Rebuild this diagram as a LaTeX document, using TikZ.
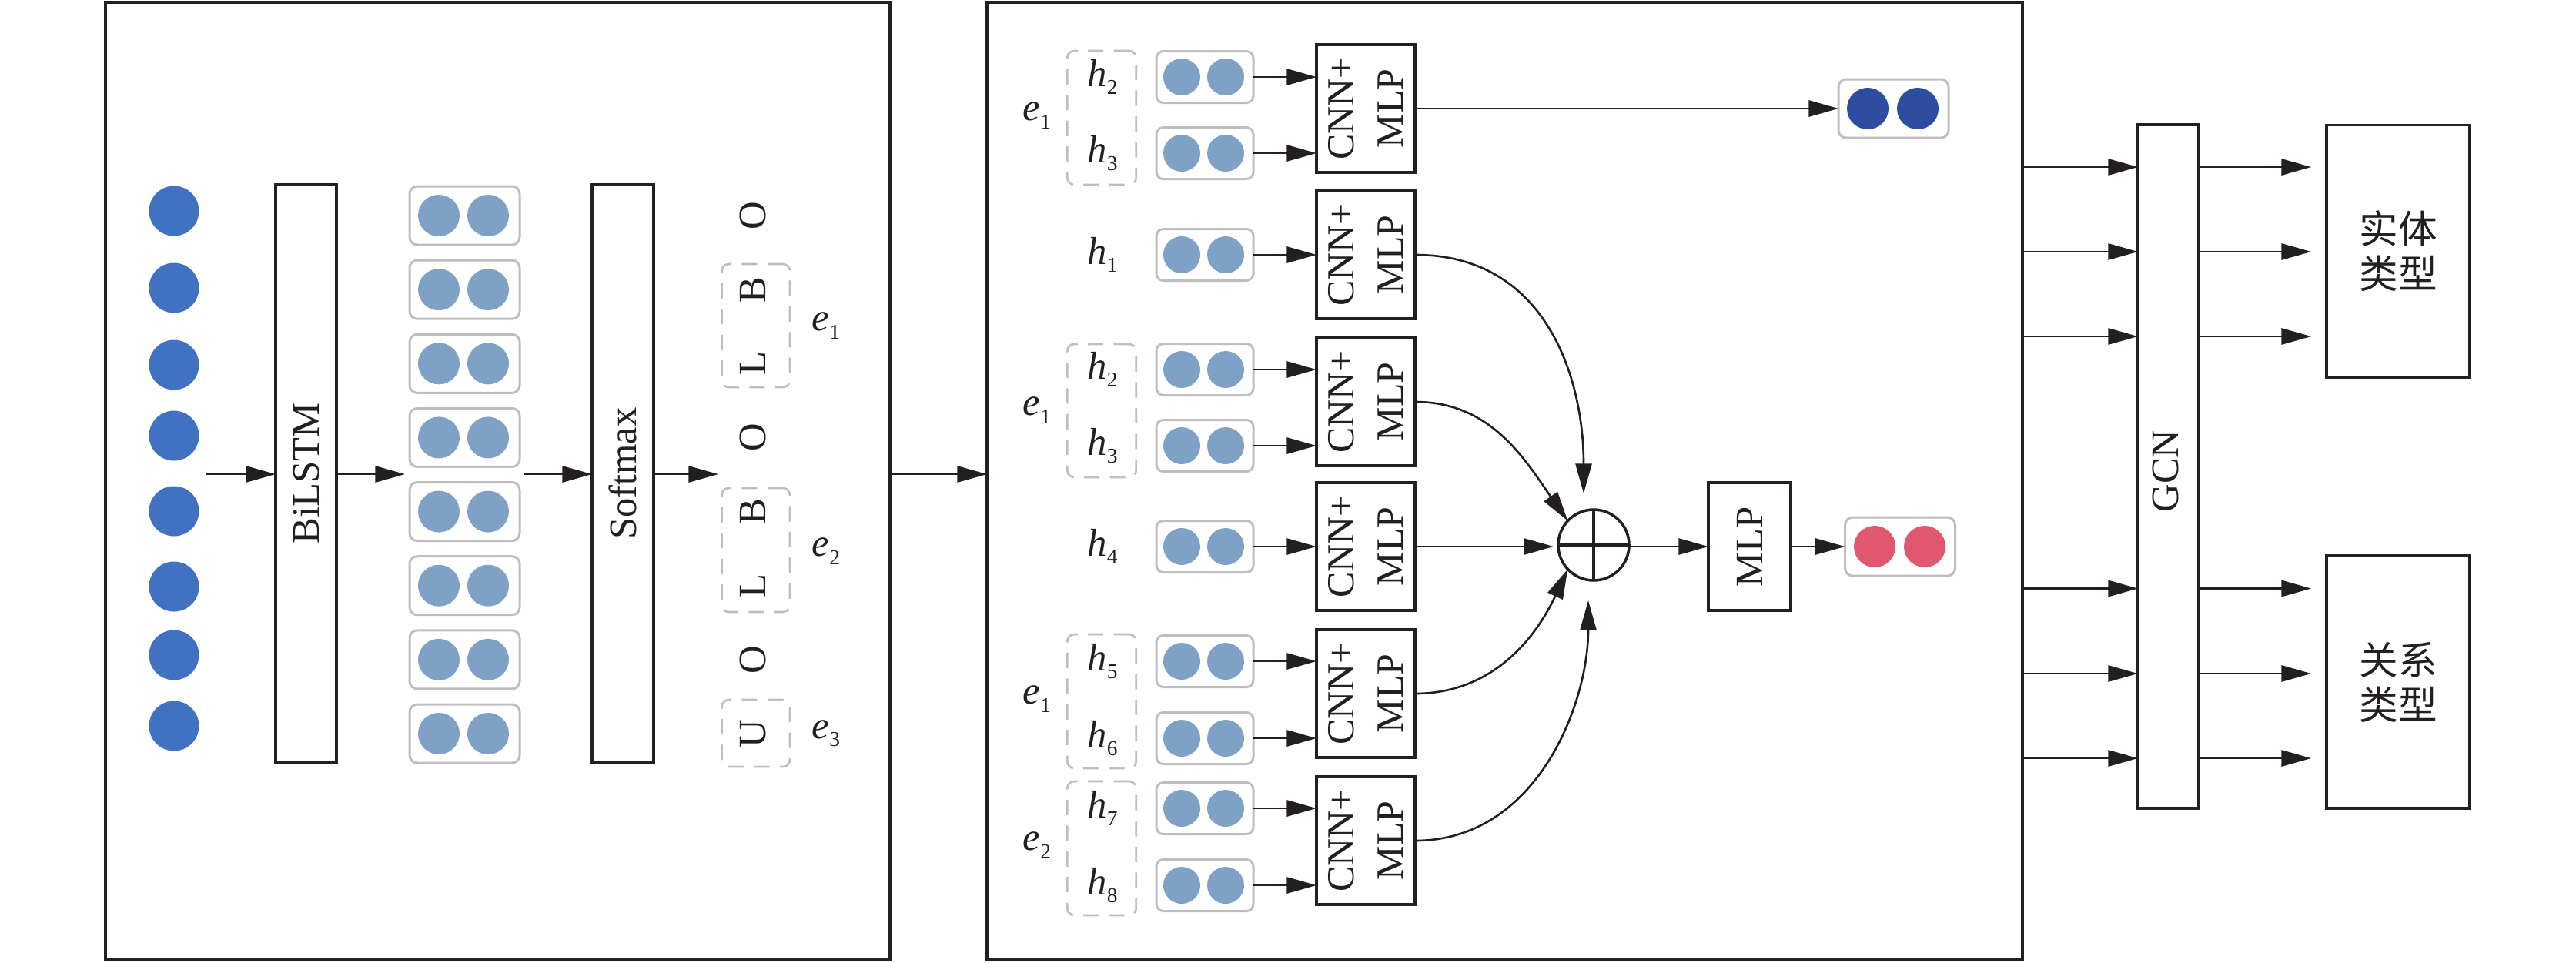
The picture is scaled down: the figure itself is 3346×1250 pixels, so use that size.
\documentclass[tikz,border=0pt]{standalone}
\usepackage{fontspec}
\setmainfont{Liberation Serif}
\newfontfamily\cjk{Noto Sans CJK SC}
\usetikzlibrary{arrows.meta,calc}
\newlength\pu \setlength\pu{0.01cm}
\definecolor{ink}{HTML}{231F20}
\definecolor{dotA}{HTML}{4172C1}
\definecolor{dotB}{HTML}{7FA1C5}
\definecolor{dotC}{HTML}{2E4DA0}
\definecolor{dotD}{HTML}{E0576E}
\definecolor{gbox}{HTML}{BEBEBE}
\newcommand\subl[2]{\textit{#1}\raisebox{-2.9pt}{\fontsize{7.8pt}{8pt}\selectfont #2}}
\begin{document}
\begin{tikzpicture}[x=0.01cm,y=-0.01cm,
  panel/.style={draw=ink,line width=1pt,inner sep=0,outer sep=0},
  blk/.style={draw=ink,line width=1pt,inner sep=0,outer sep=0,fill=white},
  lab/.style={text=ink,inner sep=0,outer sep=0,font=\fontsize{14.4pt}{17pt}\selectfont},
  dotin/.style={circle,fill=dotA,inner sep=0,minimum size=65\pu},
  vecL/.style={draw=gbox,line width=0.85pt,rounded corners=2.8pt,inner sep=0,outer sep=0,minimum width=143\pu,minimum height=76\pu},
  vecM/.style={draw=gbox,line width=0.85pt,rounded corners=2.6pt,inner sep=0,outer sep=0,minimum width=126\pu,minimum height=67\pu},
  dotL/.style={circle,inner sep=0,minimum size=54\pu},
  dotM/.style={circle,fill=dotB,inner sep=0,minimum size=48\pu},
  dbox/.style={draw=gbox,line width=0.75pt,dash pattern=on 5.7pt off 3.8pt,rounded corners=2.6pt,inner sep=0,outer sep=0},
  arr/.style={draw=ink,line width=0.75pt,-{Triangle[length=11pt,width=6pt]}}
]
\useasboundingbox (0,0) rectangle (3346,1250);

% panels
\node[panel,minimum width=1019\pu,minimum height=1243\pu] (left) at (646.5,624.5) {};
\node[panel,minimum width=1345\pu,minimum height=1243\pu] (mid) at (1954.5,624.5) {};

% ---------- left panel ----------
\foreach \y [count=\i] in {274,374,474,566,664,762,851,943}
  \node[dotin] (x\i) at (226,\y) {};

\node[blk,minimum width=79\pu,minimum height=750\pu] (bilstm) at (397.5,615) {};
\node[lab,rotate=90] (bilstmT) at (bilstm.center) {BiLSTM};
\node[blk,minimum width=80\pu,minimum height=750\pu] (softmax) at (809,615) {};
\node[lab,rotate=90] (softmaxT) at (softmax.center) {Softmax};

\foreach \i in {1,...,8}{
  \pgfmathsetmacro\yy{280+96.14*(\i-1)}
  \node[vecL] (lv\i) at (603.5,\yy) {};
  \node[dotL,fill=dotB] (lv\i a) at (570,\yy) {};
  \node[dotL,fill=dotB] (lv\i b) at (634,\yy) {};
}
\foreach \t [count=\i] in {O,B,L,O,B,L,O,U}{
  \pgfmathsetmacro\yy{280+96.14*(\i-1)}
  \node[lab,rotate=90] (tag\i) at (978,\yy) {\t};
}
\node[dbox,minimum width=88.5\pu,minimum height=160\pu] (ld1) at (981.75,423) {};
\node[dbox,minimum width=88.5\pu,minimum height=161\pu] (ld2) at (981.75,714.5) {};
\node[dbox,minimum width=88.5\pu,minimum height=87\pu] (ld3) at (981.75,952.5) {};
\node[lab] (le1) at (1073,423) {\subl{e}{1}};
\node[lab] (le2) at (1073,716) {\subl{e}{2}};
\node[lab] (le3) at (1073,953) {\subl{e}{3}};

\coordinate (a0) at (268,616);
\coordinate (a1) at (526,616);
\coordinate (a2) at (681,616);
\coordinate (a3) at (933,616);
\draw[arr] (a0) -- (a0 -| bilstm.west);
\draw[arr] (bilstm.east |- a0) -- (a1);
\draw[arr] (a2) -- (a2 -| softmax.west);
\draw[arr] (softmax.east |- a0) -- (a3);
\draw[arr] (left.east |- a0) -- (mid.west |- a0);

% ---------- middle panel ----------
\foreach \y [count=\k] in {141,331,522,710,901,1092}{
  \node[blk,minimum width=128\pu,minimum height=166\pu] (cnn\k) at (1774,\y) {};
  \node[lab,rotate=90,align=center,font=\fontsize{14.2pt}{18.2pt}\selectfont] (cnnT\k) at (cnn\k.center) {CNN+\\MLP};
}
\node[dbox,minimum width=89.5\pu,minimum height=174\pu] (md1) at (1431,153) {};
\node[dbox,minimum width=89.5\pu,minimum height=173\pu] (md2) at (1431,533.5) {};
\node[dbox,minimum width=89.5\pu,minimum height=174\pu] (md3) at (1431,911) {};
\node[dbox,minimum width=89.5\pu,minimum height=174\pu] (md4) at (1431,1102) {};
\node[lab] (me1) at (1347,150) {\subl{e}{1}};
\node[lab] (me2) at (1347,533) {\subl{e}{1}};
\node[lab] (me3) at (1347,908) {\subl{e}{1}};
\node[lab] (me4) at (1347,1098) {\subl{e}{2}};

\foreach \y/\lab/\k [count=\i] in {100/2/1,199/3/1,331/1/2,480/2/3,579/3/3,710/4/4,859/5/5,959/6/5,1050/7/6,1150/8/6}{
  \node[vecM] (mv\i) at (1565,\y) {};
  \node[dotM] (mv\i a) at (1535,\y) {};
  \node[dotM] (mv\i b) at (1592,\y) {};
  \node[lab] (h\i) at (1432,\y) {\subl{h}{\lab}};
  \draw[arr] (mv\i.east) -- (mv\i.east -| cnn\k.west);
}

% outputs
\node[vecL] (bv) at (2459.5,141) {};
\node[dotL,fill=dotC] (bva) at (2426,141) {};
\node[dotL,fill=dotC] (bvb) at (2491,141) {};
\draw[arr] (cnn1.east) -- (bv.west);

\node[circle,draw=ink,line width=1pt,minimum size=92\pu,inner sep=0,outer sep=0] (plus) at (2070,708) {};
\draw[ink,line width=1pt] (plus.north) -- (plus.south) (plus.west) -- (plus.east);

\draw[arr,shorten >=21\pu] (cnn2.east) to[out=0,in=90,looseness=1.1] ([xshift=-13\pu]plus.north);
\draw[arr] (cnn3.east) to[out=0,in=125] (plus.137);
\draw[arr,shorten >=6\pu] (cnn4.east) -- (cnn4.east -| plus.west);
\draw[arr] (cnn5.east) to[out=0,in=-115] (plus.223);
\draw[arr,shorten >=26\pu] (cnn6.east) to[out=0,in=-90] ([xshift=-7\pu]plus.south);

\node[blk,minimum width=107\pu,minimum height=166\pu] (mlp) at (2272.5,710) {};
\node[lab,rotate=90] (mlpT) at (mlp.center) {MLP};
\draw[arr] (plus.east |- mlp.west) -- (mlp.west);

\node[vecL] (rv) at (2468,710) {};
\node[dotL,fill=dotD] (rva) at (2435,710) {};
\node[dotL,fill=dotD] (rvb) at (2500,710) {};
\draw[arr] (mlp.east) -- (rv.west);

% ---------- right part ----------
\node[blk,minimum width=79\pu,minimum height=888\pu] (gcn) at (2816.5,606) {};
\node[lab,rotate=90] (gcnT) at (2813,612) {GCN};
\node[blk,minimum width=186\pu,minimum height=328\pu] (ent) at (3115,326.5) {};
\node[lab,align=center,font=\cjk\fontsize{14.4pt}{16.5pt}\selectfont] (entT) at (ent.center) {实体\\类型};
\node[blk,minimum width=186\pu,minimum height=328\pu] (rel) at (3115,886) {};
\node[lab,align=center,font=\cjk\fontsize{14.4pt}{16.5pt}\selectfont] (relT) at (rel.center) {关系\\类型};

\foreach \y [count=\i] in {217,327,437}{
  \coordinate (g\i) at (0,\y);
  \draw[arr] (mid.east |- g\i) -- (gcn.west |- g\i);
  \draw[arr,shorten >=20\pu] (gcn.east |- g\i) -- (ent.west |- g\i);
}
\foreach \y [count=\i from 4] in {764.5,875,985}{
  \coordinate (g\i) at (0,\y);
  \draw[arr] (mid.east |- g\i) -- (gcn.west |- g\i);
  \draw[arr,shorten >=20\pu] (gcn.east |- g\i) -- (rel.west |- g\i);
}
\end{tikzpicture}
\end{document}
